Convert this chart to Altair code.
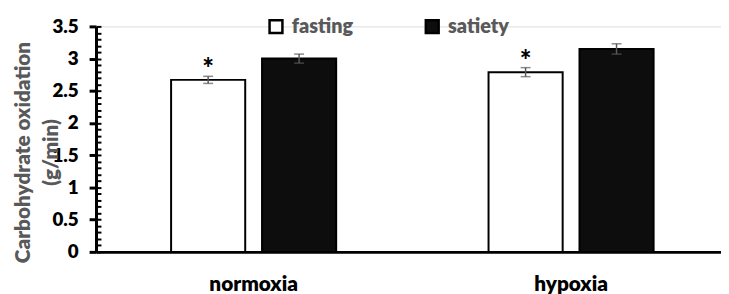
import altair as alt
import pandas as pd

# ---- data ----
conditions = ["normoxia", "hypoxia"]
groups = ["fasting", "satiety"]
cond_col = ["normoxia", "normoxia", "hypoxia", "hypoxia"]
group_col = ["fasting", "satiety", "fasting", "satiety"]
values = [2.67, 3.00, 2.79, 3.15]
errors = [0.055, 0.07, 0.07, 0.08]
signif = ["*", "", "*", ""]
major_ticks = [0, 0.5, 1, 1.5, 2, 2.5, 3, 3.5]
minor_ticks = [0, 0.1, 0.2, 0.3, 0.4, 0.5, 0.6, 0.7, 0.8, 0.9, 1.0, 1.1, 1.2, 1.3,
               1.4, 1.5, 1.6, 1.7, 1.8, 1.9, 2.0, 2.1, 2.2, 2.3, 2.4, 2.5, 2.6, 2.7,
               2.8, 2.9, 3.0, 3.1, 3.2, 3.3, 3.4, 3.5]
y_title = ["Carbohydrate oxidation", "(g/min)"]

df = pd.DataFrame({
    "condition": cond_col,
    "group": group_col,
    "value": values,
    "err": errors,
    "sig": signif,
})
df["lo"] = df["value"] - df["err"]
df["hi"] = df["value"] + df["err"]

FONT = "Lato"
W = 800
GRAY = "#595959"

xs = alt.Scale(domain=conditions, paddingInner=0.48, paddingOuter=0.2244, align=0.527)
xo = alt.Scale(domain=groups, paddingInner=0.185, paddingOuter=0)
ys = alt.Scale(domain=[0, 3.5], nice=False, zero=True)

x_enc = alt.X("condition:N", scale=xs, sort=conditions,
              axis=alt.Axis(title=None, labelAngle=0, ticks=False, domainWidth=3,
                            domainColor="black", labelFont=FONT, labelFontSize=21,
                            labelFontWeight=W, labelColor="black",
                            labelPadding=22, labelBaseline="top"))
xo_enc = alt.XOffset("group:N", scale=xo, sort=groups)

base = alt.Chart(df)

bars = base.mark_bar(stroke="black", strokeWidth=2).encode(
    x=x_enc,
    xOffset=xo_enc,
    y=alt.Y("value:Q", scale=ys,
            axis=alt.Axis(values=major_ticks, format="~g", title=y_title,
                          titleFont=FONT, titleFontSize=21, titleFontWeight=W,
                          titleColor=GRAY, titleX=-73, titleY=127, titleAngle=-90,
                          titleAlign="center", titleBaseline="middle", titleLineHeight=28,
                          labelFont=FONT, labelFontSize=19, labelFontWeight=W,
                          labelColor="black", labelPadding=11, tickSize=7, tickWidth=3,
                          tickColor="black", domainWidth=3, domainColor="black",
                          grid=False)),
    color=alt.Color("group:N", sort=groups,
                    scale=alt.Scale(domain=groups, range=["#ffffff", "#0d0d0d"]),
                    legend=alt.Legend(title=None, orient="none", direction="horizontal",
                                      legendX=172, legendY=-10, symbolType="square",
                                      symbolSize=169, symbolStrokeColor="black",
                                      symbolStrokeWidth=2.5, labelFont=FONT,
                                      labelFontSize=20, labelFontWeight=W,
                                      labelColor=GRAY, columnPadding=67, padding=0,
                                      labelOffset=6)),
)

err_rule = base.mark_rule(color=GRAY, strokeWidth=1.5).encode(
    x=x_enc, xOffset=xo_enc,
    y=alt.Y("lo:Q", scale=ys,
            axis=alt.Axis(values=minor_ticks, labels=False, domain=False, title=None,
                          tickSize=5, tickWidth=2, tickColor="black", offset=-5,
                          grid=False, orient="left")),
    y2="hi:Q",
)

cap_lo = base.mark_tick(color=GRAY, thickness=1.5, size=10).encode(
    x=x_enc, xOffset=xo_enc, y=alt.Y("lo:Q", scale=ys, axis=None))
cap_hi = base.mark_tick(color=GRAY, thickness=1.5, size=10).encode(
    x=x_enc, xOffset=xo_enc, y=alt.Y("hi:Q", scale=ys, axis=None))

stars = base.mark_text(font=FONT, fontSize=28, fontWeight=900, color="black",
                       baseline="middle", dy=-6).encode(
    x=x_enc, xOffset=xo_enc, y=alt.Y("hi:Q", scale=ys, axis=None), text="sig:N")

chart = alt.layer(bars, err_rule, cap_lo, cap_hi, stars).resolve_axis(
    y="independent"
).properties(
    width=632, height=228,
    autosize=alt.AutoSizeParams(type="none"),
    padding={"left": 89, "top": 17, "right": 0, "bottom": 41},
).configure_view(stroke=None).configure(background="white")

chart.save("out.html", embed_options={"renderer": "svg", "actions": False})
